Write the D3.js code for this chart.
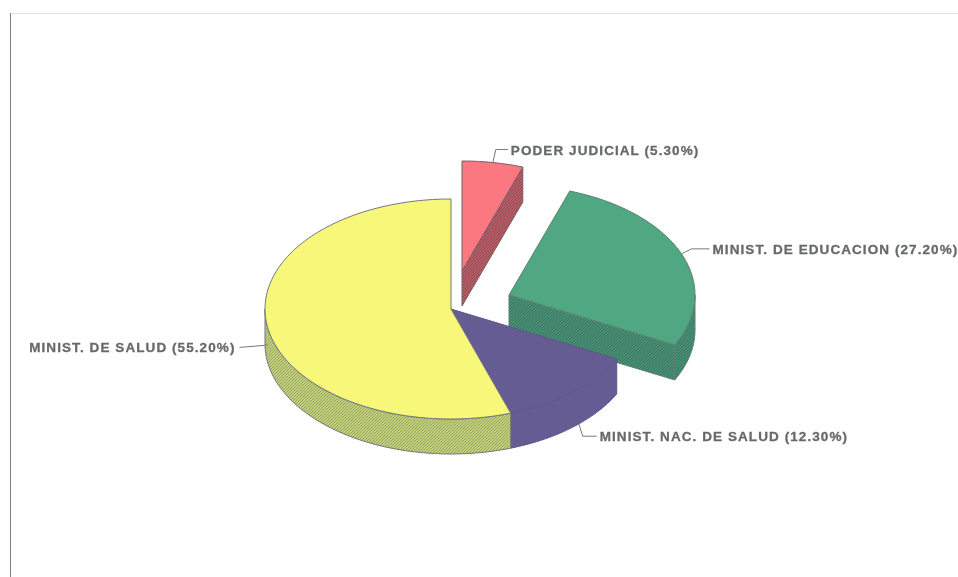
<!DOCTYPE html>
<html>
<head>
<meta charset="utf-8">
<script src="https://cdn.jsdelivr.net/npm/d3@7"></script>
<style>
html,body{margin:0;padding:0;background:#fff;}
svg{display:block;}
text{font-family:"Liberation Sans",Arial,sans-serif;font-weight:bold;font-size:13.5px;fill:#666a68;stroke:#666a68;stroke-width:.3px;letter-spacing:1.08px;}
</style>
</head>
<body>
<div id="chart"></div>
<script>
const categories = ["PODER JUDICIAL", "MINIST. DE EDUCACION", "MINIST. NAC. DE SALUD", "MINIST. DE SALUD"];
const shares = [5.3, 27.2, 12.3, 55.2];
const topColors = ["#fb7880", "#4fa882", "#655c94", "#f7f77a"];
const wallFills = ["url(#hatchRed)", "url(#hatchGreen)", "#655c94", "url(#hatchYellow)"];
const edgeColors = ["#75606a", "#5f7f72", "#5f5788", "#74747f"];
// how far each slice is pulled out of the pie, px
const explodeX = [11, 58, 0, 0];
const explodeY = [-38, -14, 0, 0];
// where the leader ends and the label sits, relative to the slice's outer edge
const leaderPts = [
    [[0,0],[3,-13],[15,-13]],
    [[0,0],[10,-5],[28,-5]],
    [[6,-4],[10,9],[24,9]],
    [[0,0],[-3,1],[-28,3]]
];
const leaderDepth = [0, 0, 1, 0.5];

const width = 958, height = 577;
const cx = 451, cy = 309, rx = 186, ry = 110, depth = 35;

const svg = d3.select("#chart").append("svg")
    .attr("width", width)
    .attr("height", height);

const defs = svg.append("defs");
defs.append("filter").attr("id","scan")
    .attr("x",0).attr("y",0).attr("width",1).attr("height",1)
    .append("feGaussianBlur").attr("stdDeviation",0.45);

function hatch(id, bg, fg){
    const p = defs.append("pattern").attr("id",id)
        .attr("width",3).attr("height",3)
        .attr("patternUnits","userSpaceOnUse");
    p.append("rect").attr("width",3).attr("height",3).attr("fill",bg);
    p.append("path").attr("d","M-1,1L1,-1M0,3L3,0M2,4L4,2")
        .attr("stroke",fg).attr("stroke-width",1.1);
}
hatch("hatchRed","#cc626c","#8a4a55");
hatch("hatchGreen","#4f9c7d","#35725e");
hatch("hatchYellow","#dbe07c","#8ea468");

const g = svg.append("g").attr("filter","url(#scan)");

// frame left over from the scan
g.append("line").attr("x1",10).attr("x2",width).attr("y1",13).attr("y2",13)
    .attr("stroke","#c4c4c4").attr("stroke-width",1);
g.append("line").attr("x1",10).attr("x2",10).attr("y1",13).attr("y2",height)
    .attr("stroke","#808080").attr("stroke-width",2);

const pie = d3.pie().sort(null).value(d => d);
const arcs = pie(shares);

// 0 is straight up, going clockwise, same as d3.pie
const px = a => rx * Math.sin(a);
const py = a => -ry * Math.cos(a);
const line = d3.line();
const sweep = (a0, a1) => {
    const n = Math.max(2, Math.ceil((a1 - a0) * 40));
    return d3.range(n + 1).map(i => a0 + (a1 - a0) * i / n);
};

function topPath(d){
    const pts = [[0,0]].concat(sweep(d.startAngle, d.endAngle).map(a => [px(a), py(a)]));
    return line(pts) + "Z";
}

// outer wall: only the stretch facing the viewer (90deg to 270deg)
function outerWall(d){
    const a0 = Math.max(d.startAngle, Math.PI / 2);
    const a1 = Math.min(d.endAngle, 3 * Math.PI / 2);
    if(a1 <= a0) return null;
    const arc = sweep(a0, a1);
    const upper = arc.map(a => [px(a), py(a)]);
    const lower = arc.slice().reverse().map(a => [px(a), py(a) + depth]);
    return line(upper.concat(lower)) + "Z";
}

// cut face along the end of the slice, seen when the slice is pulled out
function cutWall(d){
    const a = d.endAngle;
    return line([[0,0],[px(a),py(a)],[px(a),py(a)+depth],[0,depth]]) + "Z";
}

arcs.forEach((d,i) => {
    const sg = g.append("g")
        .attr("class","sliceG")
        .attr("transform",`translate(${cx + explodeX[i]},${cy + explodeY[i]})`);
    if(explodeX[i] !== 0){
        sg.append("path").attr("d",cutWall(d))
            .attr("fill",wallFills[i]).attr("stroke",edgeColors[i]).attr("stroke-width",1);
    }
    const wall = outerWall(d);
    if(wall){
        sg.append("path").attr("d",wall)
            .attr("fill",wallFills[i]).attr("stroke",edgeColors[i]).attr("stroke-width",1);
    }
    sg.append("path").attr("d",topPath(d))
        .attr("fill",topColors[i]).attr("stroke",edgeColors[i]).attr("stroke-width",1);
});

// leaders + labels
arcs.forEach((d,i) => {
    const mid = (d.startAngle + d.endAngle) / 2;
    const sx = cx + explodeX[i] + px(mid);
    const sy = cy + explodeY[i] + py(mid) + depth * leaderDepth[i];
    const pts = leaderPts[i].map(p => [sx + p[0], sy + p[1]]);
    g.append("path").attr("d",line(pts))
        .attr("fill","none").attr("stroke","#777").attr("stroke-width",1);
    const end = pts[pts.length - 1];
    const isLeft = end[0] < sx;
    g.append("text")
        .attr("x", end[0] + (isLeft ? -4 : 3))
        .attr("y", end[1] + 5)
        .attr("text-anchor", isLeft ? "end" : "start")
        .text(`${categories[i]} (${d3.format(".2f")(shares[i])}%)`);
});
</script>
</body>
</html>
